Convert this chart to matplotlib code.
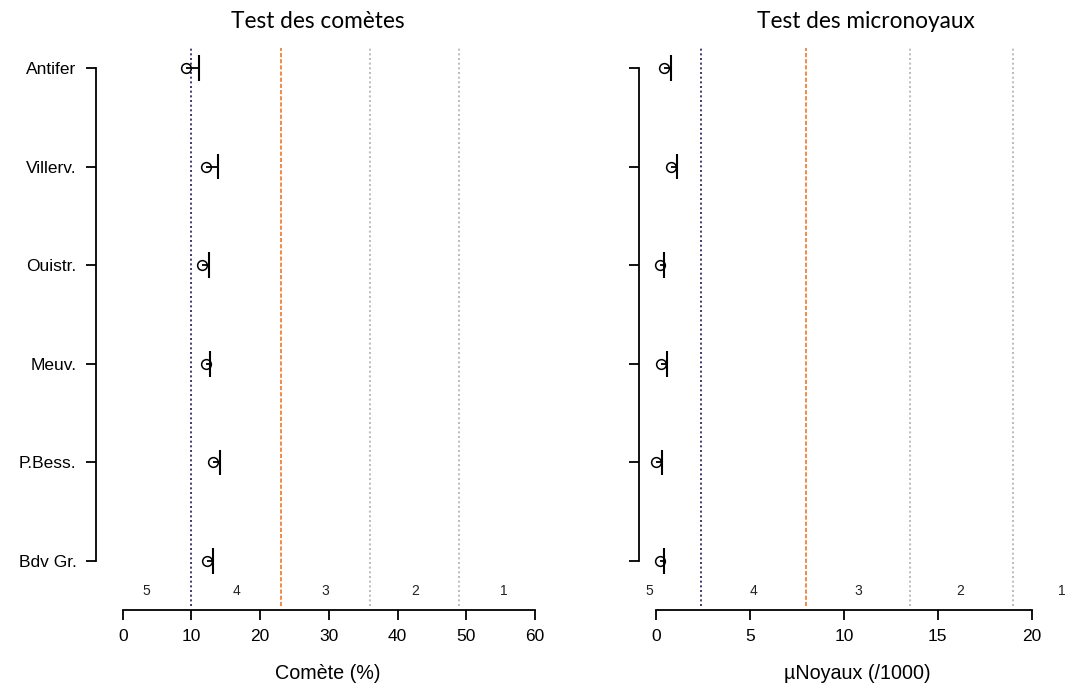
import matplotlib.pyplot as plt

plt.rcParams['font.family'] = ['Liberation Sans', 'DejaVu Sans']

sites = ["Antifer", "Villerv.", "Ouistr.", "Meuv.", "P.Bess.", "Bdv Gr."]

# comet assay: mean and upper bound per site
comet_mean = [9.2, 12.1, 11.5, 12.1, 13.1, 12.3]
comet_upper = [11.1, 13.9, 12.6, 12.7, 14.1, 13.2]
comet_thresholds = [10, 23, 36, 49]
comet_classes = ["5", "4", "3", "2", "1"]
comet_class_pos = [3.5, 16.5, 29.5, 42.5, 55.5]
comet_ticks = [0, 10, 20, 30, 40, 50, 60]

# micronucleus assay
micro_mean = [0.43, 0.78, 0.21, 0.27, 0.0, 0.2]
micro_upper = [0.8, 1.1, 0.44, 0.59, 0.3, 0.45]
micro_thresholds = [2.4, 8, 13.5, 19]
micro_classes = ["5", "4", "3", "2", "1"]
micro_class_pos = [-0.35, 5.2, 10.75, 16.2, 21.6]
micro_ticks = [0, 5, 10, 15, 20]

line_styles = [("#1c1c5e", (0, (1.2, 1.6))), ("#f07828", (0, (2.5, 1.2))),
               ("#b0b0b0", (0, (1.2, 1.6))), ("#b0b0b0", (0, (1.2, 1.6)))]

W, H = 1076, 693
fig = plt.figure(figsize=(W / 100, H / 100), dpi=100)

ypos = list(range(len(sites), 0, -1))

# vertical layout in pixels: top of plot area, first/last row, x axis line
top_px, row_top, row_bot, axis_px = 48, 68, 561, 610
ppu = (row_bot - row_top) / 5
ylim = (1 - (axis_px - row_bot) / ppu, 6 + (row_top - top_px) / ppu)


def panel(rect, mean, upper, thresholds, classes, class_pos, ticks, xlim,
          title, xlabel, title_x, show_labels):
    ax = fig.add_axes(rect)
    ax.set_xlim(*xlim)
    ax.set_ylim(*ylim)
    for x, (c, ls) in zip(thresholds, line_styles):
        ax.axvline(x, color=c, linestyle=ls, lw=1.2, ymin=0.008, ymax=1.0)
    for lab, x in zip(classes, class_pos):
        ax.text(x, 1 - 30 / ppu, lab, ha="center", va="center", fontsize=10,
                color="#222222")
    ax.hlines(ypos, mean, upper, color="black", lw=1.3)
    ax.vlines(upper, [y - 0.13 for y in ypos], [y + 0.13 for y in ypos],
              color="black", lw=1.5)
    ax.plot(mean, ypos, "o", mfc="none", mec="black", ms=7, mew=1.1)
    for s in ("top", "right"):
        ax.spines[s].set_visible(False)
    ax.spines["left"].set_bounds(1, 6)
    ax.spines["bottom"].set_bounds(ticks[0], ticks[-1])
    ax.spines["left"].set_linewidth(1.3)
    ax.spines["bottom"].set_linewidth(1.3)
    ax.set_yticks(ypos)
    ax.set_yticklabels(sites if show_labels else [""] * len(sites), fontsize=12.5)
    ax.set_xticks(ticks)
    ax.set_xticklabels([str(t) for t in ticks], fontsize=12.5)
    ax.tick_params(length=7, width=1.3, pad=7)
    ax.set_xlabel(xlabel, fontsize=14.2, labelpad=14)
    fig.text(title_x / W, 1 - 22 / H, title, ha="center", va="center",
             fontsize=16.3, family=["Lato", "DejaVu Sans"])
    return ax


bottom = 1 - axis_px / H
height = (axis_px - top_px) / H

left1, right1 = 96, 560
px1 = (535 - 122.7) / 60
panel([left1 / W, bottom, (right1 - left1) / W, height], comet_mean,
      comet_upper, comet_thresholds, comet_classes, comet_class_pos,
      comet_ticks, ((left1 - 122.7) / px1, (right1 - 122.7) / px1),
      "Test des comètes", "Comète (%)", 318, True)

left2, right2 = 639, 1076
px2 = (1031.7 - 656) / 20
panel([left2 / W, bottom, (right2 - left2) / W, height], micro_mean,
      micro_upper, micro_thresholds, micro_classes, micro_class_pos,
      micro_ticks, ((left2 - 656) / px2, (right2 - 656) / px2),
      "Test des micronoyaux", "µNoyaux (/1000)", 866, False)

fig.savefig("out.png", dpi=100)
